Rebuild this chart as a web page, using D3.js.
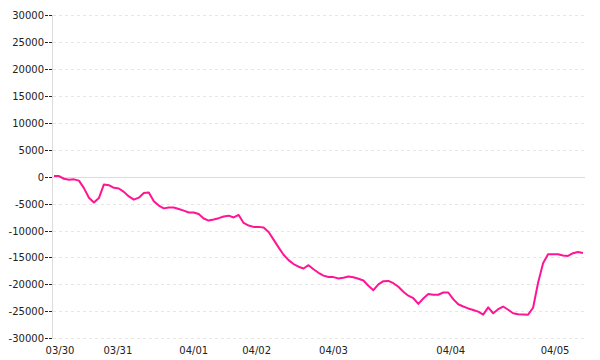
<!DOCTYPE html>
<html>
<head>
<meta charset="utf-8">
<script src="https://cdn.jsdelivr.net/npm/d3@7"></script>
<style>
  body { margin: 0; background: #fff; }
  text { font-family: "DejaVu Sans", sans-serif; font-size: 10px; fill: #222; }
</style>
</head>
<body>
<div id="chart"></div>
<script>
// values, one per sample step
const values = [
  100, 100, -390, -594, -500, -743, -2136, -3900, -4810, -3974,
  -1450, -1578, -2080, -2191, -2823, -3677, -4271, -3900, -3050, -2950,
  -4550, -5367, -5887, -5738, -5720, -5998, -6314, -6648, -6648, -6945,
  -7762, -8152, -7948, -7707, -7391, -7242, -7577, -7112, -8598, -9081,
  -9322, -9322, -9434, -10269, -11680, -13129, -14485, -15487, -16212, -16713,
  -17047, -16434, -17177, -17846, -18366, -18607, -18644, -18886, -18756, -18533,
  -18663, -18941, -19276, -20241, -21077, -20000, -19405, -19350, -19777, -20427,
  -21355, -22098, -22563, -23621, -22618, -21783, -21913, -21913, -21504, -21504,
  -22730, -23676, -24104, -24457, -24754, -25051, -25608, -24271, -25348, -24605,
  -24104, -24698, -25348, -25534, -25571, -25608, -24327, -19684, -16063, -14392,
  -14392, -14392, -14633, -14707, -14206, -13983, -14150
];
const dayLabels = ["03/30", "03/31", "04/01", "04/02", "04/03", "04/04", "04/05"];
const dayPositions = [1.2, 12.8, 28, 40.6, 56, 79.5, 100.4];
const yTicks = d3.range(-30000, 30001, 5000);

const W = 600, H = 360;
const svg = d3.select("#chart").append("svg")
  .attr("width", W)
  .attr("height", H);

const x = d3.scaleLinear().domain([0, values.length - 1]).range([54, 583]);
const y = d3.scaleLinear().domain([-30000, 30000]).range([338.3, 15]);

// grid lines
svg.selectAll("line.grid")
  .data(yTicks.filter(d => d !== 0))
  .enter()
  .append("line")
    .attr("x1", 53).attr("x2", 585)
    .attr("y1", d => Math.round(y(d)) + 0.5)
    .attr("y2", d => Math.round(y(d)) + 0.5)
    .attr("stroke", "#e6e6e6")
    .attr("stroke-dasharray", "3,3");

// zero line
svg.append("line")
  .attr("x1", 53).attr("x2", 585)
  .attr("y1", Math.round(y(0)) + 0.5)
  .attr("y2", Math.round(y(0)) + 0.5)
  .attr("stroke", "#dcdcdc");

// y axis line
svg.append("line")
  .attr("x1", 52.5).attr("x2", 52.5)
  .attr("y1", y(30000)).attr("y2", y(-30000))
  .attr("stroke", "#dcdcdc");

// y ticks + labels
const yt = svg.selectAll("g.ytick")
  .data(yTicks)
  .enter()
  .append("g")
    .attr("transform", d => "translate(0," + (Math.round(y(d)) + 0.5) + ")");

yt.append("line")
  .attr("x1", 45).attr("x2", 52)
  .attr("stroke", "#222")
  .attr("stroke-dasharray", "3,1");

yt.append("text")
  .attr("x", 44)
  .attr("dy", "0.35em")
  .attr("text-anchor", "end")
  .text(d => d);

// x labels
svg.selectAll("text.xlab")
  .data(dayLabels)
  .enter()
  .append("text")
    .attr("x", (d, i) => x(dayPositions[i]))
    .attr("y", 354)
    .attr("text-anchor", "middle")
    .text(d => d);

// line
const line = d3.line()
  .x((d, i) => x(i))
  .y(d => y(d));

svg.append("path")
  .datum(values)
  .attr("d", line)
  .attr("fill", "none")
  .attr("stroke", "#ff1493")
  .attr("stroke-width", 2)
  .attr("stroke-linejoin", "round");
</script>
</body>
</html>
